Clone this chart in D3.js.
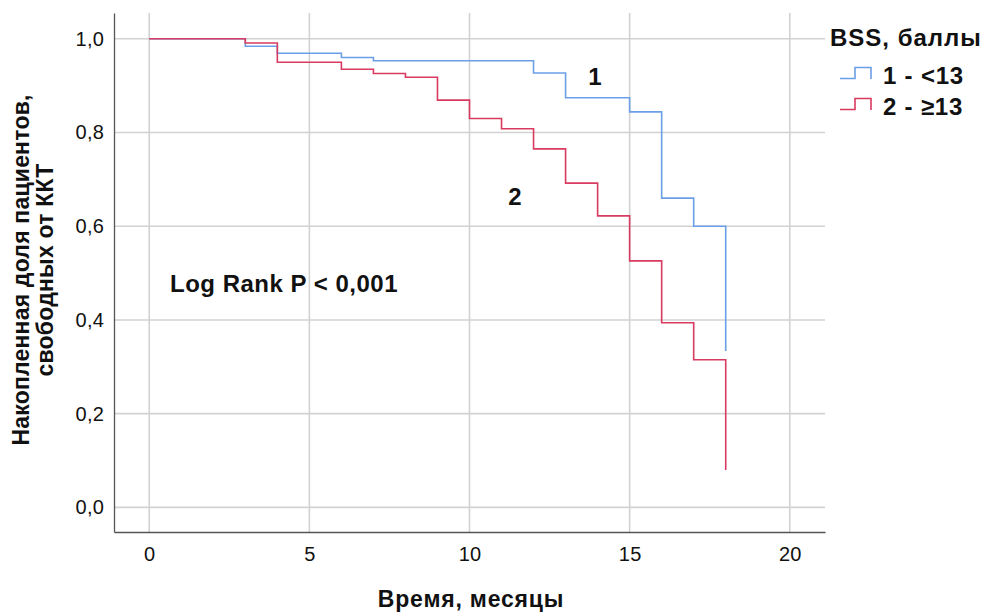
<!DOCTYPE html>
<html><head><meta charset="utf-8">
<script src="https://cdn.jsdelivr.net/npm/d3@7"></script>
<style>body{margin:0;background:#fff}svg{display:block}text{font-family:"Liberation Sans",Arial,sans-serif}</style>
</head><body>
<svg id="c" width="981" height="612"></svg>
<script>
const xTicks = [0, 5, 10, 15, 20];
const yTicks = [0, 0.2, 0.4, 0.6, 0.8, 1.0];
const group1Times = [0, 3, 4, 6, 7, 12, 13, 15, 16, 17, 18];
const group1Surv  = [1.0, 0.984, 0.969, 0.960, 0.953, 0.927, 0.874, 0.844, 0.660, 0.600, 0.334];
const group2Times = [0, 3, 4, 6, 7, 8, 9, 10, 11, 12, 13, 14, 15, 16, 17, 18];
const group2Surv  = [1.0, 0.991, 0.950, 0.935, 0.926, 0.918, 0.869, 0.830, 0.808, 0.765, 0.692, 0.622, 0.526, 0.394, 0.315, 0.080];
const legendLabels = ["1 - <13", "2 - \u226513"];
const colors = ["#6b9fe8", "#d83a60"];

const svg = d3.select("#c");
const x = d3.scaleLinear().domain([-1.1, 21.1]).range([114, 825]);
const y = d3.scaleLinear().domain([-0.0525, 1.055]).range([532, 13]);

// grid
const grid = svg.append("g");
grid.selectAll("line.h").data(yTicks).join("line")
  .attr("x1", x.range()[0]).attr("x2", x.range()[1])
  .attr("y1", d => y(d)).attr("y2", d => y(d))
  .attr("stroke", "#d2d2d2").attr("stroke-width", 1.6);
grid.selectAll("line.v").data(xTicks).join("line")
  .attr("x1", d => x(d)).attr("x2", d => x(d))
  .attr("y1", y.range()[0]).attr("y2", y.range()[1])
  .attr("stroke", "#d2d2d2").attr("stroke-width", 1.6);

// axes
const xAxis = svg.append("g").attr("transform", `translate(0,${y.range()[0]})`)
  .call(d3.axisBottom(x).tickValues(xTicks).tickSize(0).tickPadding(15).tickFormat(d3.format("d")));
const yAxis = svg.append("g").attr("transform", `translate(${x.range()[0]},0)`)
  .call(d3.axisLeft(y).tickValues(yTicks).tickSize(0).tickPadding(10).tickFormat(d => d.toFixed(1).replace(".", ",")));
[xAxis, yAxis].forEach(g => {
  g.select(".domain").attr("stroke", "#555").attr("stroke-width", 1.3);
  g.selectAll("text").attr("font-size", 20).attr("letter-spacing", 0.2).attr("fill", "#111")
    .attr("font-family", "Liberation Sans, Arial, sans-serif");
});

// curves
const line = d3.line().x(d => x(d[0])).y(d => y(d[1])).curve(d3.curveStepAfter);
const series = [d3.zip(group1Times, group1Surv), d3.zip(group2Times, group2Surv)];
svg.selectAll("path.km").data(series).join("path")
  .attr("d", line).attr("fill", "none")
  .attr("stroke", (d, i) => colors[i]).attr("stroke-width", 1.6);

// annotations
const bold = sel => sel.attr("font-weight", "bold").attr("fill", "#111");
svg.append("text").attr("x", 595).attr("y", 85).attr("text-anchor", "middle").attr("font-size", 24).text("1").call(bold);
svg.append("text").attr("x", 515).attr("y", 205).attr("text-anchor", "middle").attr("font-size", 24).text("2").call(bold);
svg.append("text").attr("x", 170).attr("y", 292).attr("font-size", 24).attr("letter-spacing", 0.5).text("Log Rank P < 0,001").call(bold);

// axis titles
svg.append("text").attr("x", 471).attr("y", 607).attr("text-anchor", "middle").attr("font-size", 23)
  .attr("letter-spacing", 0.8).text("Время, месяцы").call(bold);
const yt = svg.append("text").attr("transform", "translate(0,270) rotate(-90)").attr("text-anchor", "middle")
  .attr("font-size", 23).attr("letter-spacing", 0.2).call(bold);
yt.append("tspan").attr("x", 0).attr("y", 29).text("Накопленная доля пациентов,");
yt.append("tspan").attr("x", 0).attr("y", 53).text("свободных от ККТ");

// legend
svg.append("text").attr("x", 830).attr("y", 46).attr("font-size", 24).attr("letter-spacing", 1).text("BSS, баллы").call(bold);
const lg = svg.selectAll("g.lg").data(legendLabels).join("g").attr("transform", (d, i) => `translate(0,${i * 31})`);
lg.append("path").attr("d", "M840,78.5H855V67.5H871V79").attr("fill", "none")
  .attr("stroke", (d, i) => colors[i]).attr("stroke-width", 1.6);
lg.append("text").attr("x", 883).attr("y", 84).attr("font-size", 24).attr("letter-spacing", 0.8).text(d => d).call(bold);
</script>
</body></html>
